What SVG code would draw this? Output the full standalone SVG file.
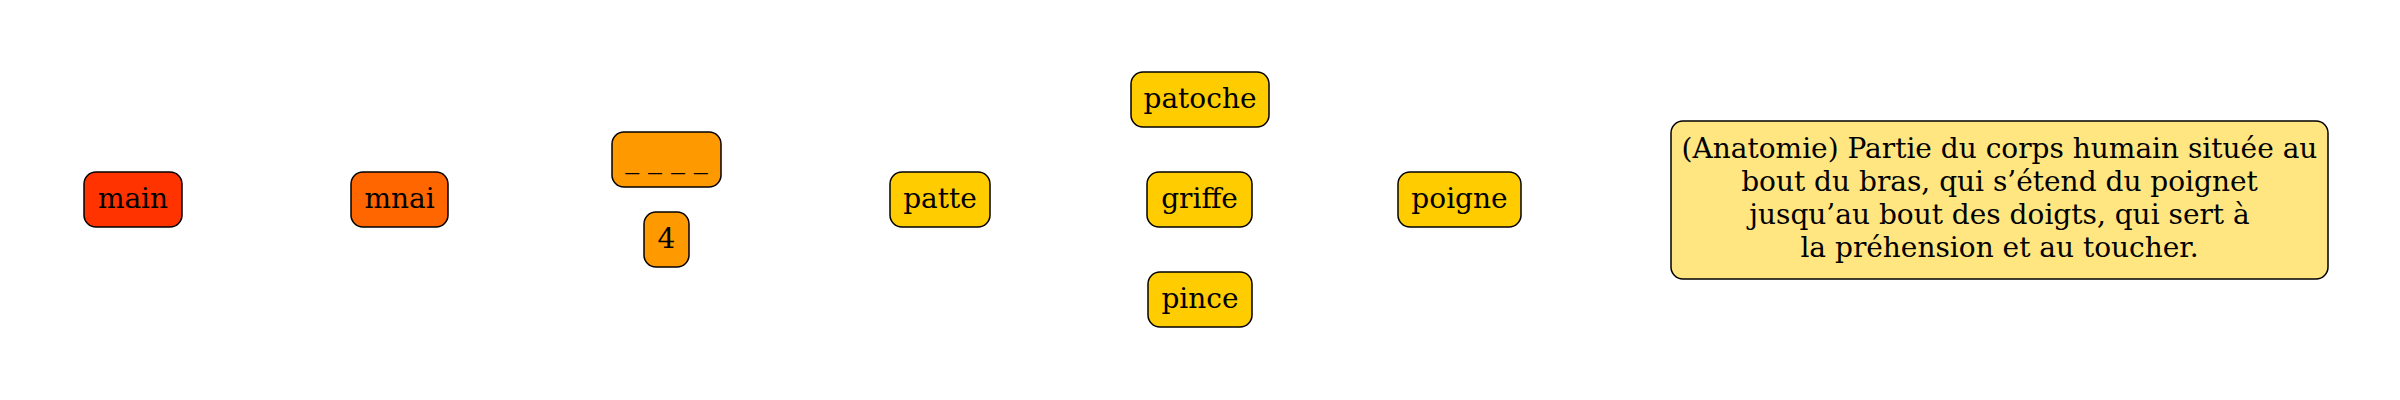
<svg xmlns="http://www.w3.org/2000/svg" width="2400" height="400" viewBox="0 0 2400 400">
<style>
.n rect{stroke:#000;stroke-width:1.5}
.n text{font-family:"DejaVu Serif",serif;font-size:28px;text-anchor:middle;fill:#000}
.c1{fill:#ff3300}.c2{fill:#ff6600}.c3{fill:#ff9900}.c4{fill:#ffcc00}.c5{fill:#ffe680}
</style>
<rect width="2400" height="400" fill="#fff"/>
<g id="connectors"></g>
<g id="main" class="n"><rect class="c1" x="84" y="172" width="98" height="55" rx="12"/><text x="133" y="208">main</text></g>
<g id="mnai" class="n"><rect class="c2" x="351" y="172" width="97" height="55" rx="12"/><text x="399.5" y="208">mnai</text></g>
<g id="blank" class="n"><rect class="c3" x="612" y="132" width="109" height="55" rx="12"/><text x="666.5" y="168">_ _ _ _</text></g>
<g id="four" class="n"><rect class="c3" x="644" y="212" width="45" height="55" rx="12"/><text x="666.5" y="248">4</text></g>
<g id="patte" class="n"><rect class="c4" x="890" y="172" width="100" height="55" rx="12"/><text x="940" y="208">patte</text></g>
<g id="patoche" class="n"><rect class="c4" x="1131" y="72" width="138" height="55" rx="12"/><text x="1200" y="108">patoche</text></g>
<g id="griffe" class="n"><rect class="c4" x="1147" y="172" width="105" height="55" rx="12"/><text x="1199.5" y="208">griffe</text></g>
<g id="pince" class="n"><rect class="c4" x="1148" y="272" width="104" height="55" rx="12"/><text x="1200" y="308">pince</text></g>
<g id="poigne" class="n"><rect class="c4" x="1398" y="172" width="123" height="55" rx="12"/><text x="1459.5" y="208">poigne</text></g>
<g id="definition" class="n"><rect class="c5" x="1671" y="121" width="657" height="158" rx="12"/>
<text x="1999.5" y="158">(Anatomie) Partie du corps humain située au</text>
<text x="1999.5" y="191">bout du bras, qui s’étend du poignet</text>
<text x="1999.5" y="224">jusqu’au bout des doigts, qui sert à</text>
<text x="1999.5" y="257">la préhension et au toucher.</text></g>
</svg>
